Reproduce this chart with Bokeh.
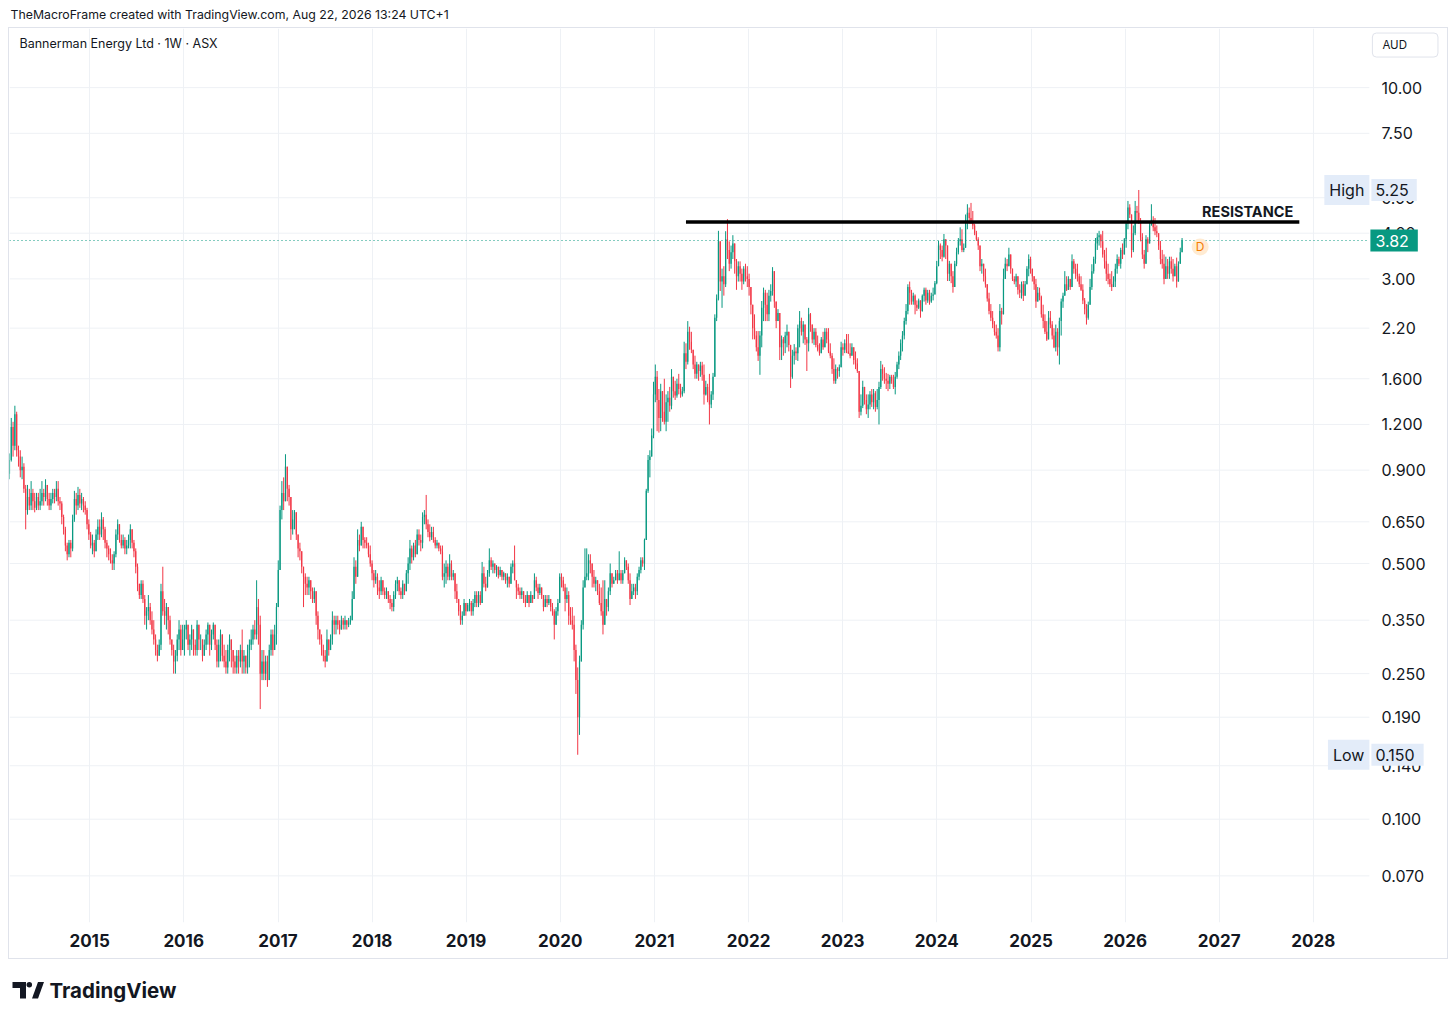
import datetime as dt
import math
from bokeh.plotting import figure
from bokeh.layouts import column, row
from bokeh.models import (ColumnDataSource, FixedTicker, CustomJSTickFormatter,
                          Label, Range1d, Spacer)
from bokeh.embed import file_html
from bokeh.resources import INLINE
from bokeh.core.properties import value

# ---------------- data: weekly candles (close / high / low) ----------------
first_week = dt.datetime(2014, 2, 24)
first_open = 0.88

c14 = [0.96,1.18,1.05,1.28,1.02,0.98,0.90,0.92,0.80,0.70,0.76,0.72,0.78,0.74,0.71,0.76,0.72,0.74,0.78,0.76,0.82,0.75,0.72,0.75,0.78,0.76,0.80,0.74,0.73,0.67,0.62,0.56,0.53,0.57,0.55,0.66,0.75,0.72,0.77,0.73,0.75,0.72,0.70,0.64]
h14 = [1.00,1.25,1.22,1.35,1.30,1.05,1.02,0.98,0.94,0.82,0.82,0.80,0.84,0.80,0.78,0.78,0.78,0.80,0.84,0.80,0.85,0.82,0.78,0.78,0.80,0.80,0.84,0.84,0.76,0.74,0.68,0.63,0.57,0.58,0.58,0.68,0.79,0.78,0.81,0.80,0.78,0.76,0.74,0.71]
l14 = [0.85,0.95,0.98,1.02,0.98,0.92,0.86,0.85,0.78,0.62,0.68,0.70,0.70,0.70,0.69,0.70,0.70,0.70,0.72,0.72,0.74,0.72,0.70,0.70,0.73,0.73,0.74,0.72,0.70,0.64,0.60,0.54,0.51,0.52,0.52,0.54,0.65,0.68,0.70,0.71,0.70,0.69,0.68,0.62]

c15 = [0.60,0.56,0.57,0.54,0.60,0.63,0.60,0.66,0.62,0.57,0.55,0.53,0.51,0.50,0.53,0.60,0.64,0.58,0.56,0.58,0.55,0.56,0.58,0.62,0.57,0.54,0.49,0.44,0.41,0.44,0.40,0.36,0.37,0.38,0.35,0.33,0.31,0.29,0.28,0.30,0.42,0.37,0.36,0.38,0.35,0.31,0.29,0.27,0.28,0.31,0.33,0.29]
h15 = [0.66,0.61,0.60,0.58,0.62,0.66,0.66,0.69,0.67,0.63,0.58,0.56,0.55,0.53,0.54,0.62,0.66,0.64,0.60,0.60,0.59,0.58,0.60,0.64,0.62,0.58,0.55,0.50,0.44,0.45,0.45,0.41,0.38,0.41,0.39,0.37,0.35,0.32,0.30,0.31,0.44,0.49,0.40,0.39,0.38,0.36,0.31,0.30,0.29,0.32,0.35,0.34]
l15 = [0.58,0.55,0.53,0.52,0.54,0.58,0.58,0.59,0.58,0.55,0.52,0.51,0.50,0.48,0.48,0.52,0.58,0.57,0.55,0.55,0.53,0.53,0.55,0.55,0.55,0.52,0.47,0.42,0.40,0.40,0.39,0.34,0.33,0.35,0.34,0.32,0.30,0.28,0.27,0.28,0.29,0.36,0.34,0.33,0.32,0.30,0.28,0.25,0.25,0.27,0.29,0.28]

c16 = [0.31,0.33,0.34,0.30,0.31,0.33,0.30,0.29,0.34,0.31,0.31,0.28,0.30,0.32,0.34,0.30,0.32,0.34,0.30,0.27,0.30,0.32,0.28,0.27,0.26,0.29,0.31,0.29,0.27,0.26,0.28,0.27,0.29,0.27,0.28,0.26,0.29,0.30,0.31,0.33,0.32,0.38,0.34,0.25,0.27,0.25,0.27,0.24,0.29,0.32,0.29,0.32]
h16 = [0.34,0.34,0.35,0.34,0.32,0.34,0.33,0.31,0.35,0.34,0.32,0.31,0.31,0.33,0.345,0.34,0.33,0.345,0.33,0.31,0.31,0.33,0.32,0.30,0.29,0.30,0.32,0.31,0.29,0.28,0.29,0.29,0.30,0.33,0.29,0.28,0.30,0.31,0.33,0.34,0.35,0.45,0.40,0.36,0.29,0.29,0.28,0.28,0.30,0.33,0.33,0.34]
l16 = [0.29,0.28,0.31,0.29,0.28,0.29,0.28,0.28,0.28,0.29,0.29,0.27,0.28,0.29,0.30,0.28,0.29,0.31,0.29,0.26,0.26,0.27,0.27,0.26,0.25,0.25,0.27,0.26,0.25,0.25,0.25,0.25,0.26,0.25,0.25,0.25,0.25,0.26,0.29,0.30,0.31,0.31,0.30,0.20,0.24,0.24,0.24,0.23,0.24,0.28,0.28,0.29]

c17 = [0.38,0.48,0.70,0.78,0.74,0.92,0.80,0.76,0.62,0.66,0.69,0.60,0.55,0.54,0.49,0.46,0.44,0.43,0.45,0.42,0.40,0.42,0.36,0.33,0.31,0.29,0.28,0.27,0.31,0.29,0.31,0.35,0.34,0.35,0.34,0.33,0.35,0.34,0.35,0.34,0.345,0.35,0.40,0.49,0.46,0.58,0.56,0.63,0.58,0.57,0.56,0.53]
h17 = [0.39,0.51,0.72,0.84,0.86,0.995,0.90,0.82,0.76,0.70,0.70,0.66,0.60,0.57,0.53,0.47,0.47,0.46,0.46,0.45,0.43,0.43,0.40,0.37,0.33,0.32,0.30,0.29,0.33,0.31,0.32,0.37,0.36,0.36,0.36,0.35,0.36,0.355,0.36,0.35,0.355,0.36,0.42,0.52,0.51,0.62,0.60,0.65,0.63,0.59,0.59,0.57]
l17 = [0.30,0.38,0.48,0.66,0.70,0.80,0.74,0.72,0.58,0.60,0.62,0.58,0.52,0.51,0.47,0.38,0.41,0.41,0.41,0.40,0.39,0.39,0.34,0.31,0.30,0.28,0.27,0.26,0.27,0.28,0.29,0.30,0.32,0.32,0.33,0.32,0.33,0.33,0.33,0.33,0.335,0.34,0.35,0.43,0.44,0.50,0.54,0.57,0.55,0.55,0.55,0.52]

c18 = [0.50,0.47,0.45,0.46,0.43,0.42,0.45,0.42,0.41,0.42,0.40,0.39,0.38,0.41,0.44,0.45,0.42,0.41,0.44,0.42,0.47,0.50,0.55,0.52,0.56,0.53,0.60,0.58,0.57,0.67,0.68,0.64,0.61,0.59,0.61,0.58,0.56,0.57,0.55,0.54,0.46,0.47,0.49,0.46,0.50,0.46,0.47,0.42,0.40,0.37,0.35,0.36,0.39]
h18 = [0.56,0.51,0.48,0.48,0.47,0.45,0.46,0.44,0.43,0.43,0.42,0.41,0.40,0.42,0.45,0.46,0.45,0.43,0.45,0.44,0.48,0.52,0.58,0.56,0.57,0.58,0.62,0.62,0.60,0.69,0.70,0.77,0.66,0.64,0.63,0.63,0.59,0.58,0.57,0.56,0.56,0.50,0.51,0.50,0.53,0.51,0.48,0.47,0.44,0.40,0.385,0.37,0.40]
l18 = [0.49,0.45,0.43,0.44,0.41,0.40,0.41,0.41,0.40,0.40,0.39,0.375,0.37,0.37,0.40,0.42,0.41,0.40,0.40,0.41,0.42,0.44,0.48,0.50,0.51,0.52,0.53,0.56,0.54,0.55,0.64,0.62,0.59,0.575,0.58,0.57,0.55,0.55,0.54,0.53,0.45,0.43,0.44,0.45,0.45,0.45,0.45,0.40,0.39,0.36,0.34,0.34,0.36]

c19 = [0.37,0.385,0.39,0.37,0.39,0.41,0.39,0.41,0.39,0.47,0.44,0.43,0.47,0.51,0.49,0.50,0.48,0.49,0.465,0.48,0.46,0.47,0.45,0.46,0.44,0.49,0.50,0.45,0.43,0.42,0.41,0.42,0.40,0.39,0.41,0.39,0.41,0.40,0.45,0.43,0.415,0.43,0.41,0.38,0.40,0.39,0.40,0.38,0.37,0.34,0.37,0.39]
h19 = [0.39,0.39,0.40,0.395,0.40,0.42,0.42,0.42,0.42,0.505,0.49,0.46,0.48,0.55,0.52,0.51,0.50,0.495,0.49,0.49,0.48,0.475,0.47,0.47,0.46,0.50,0.51,0.56,0.45,0.44,0.43,0.43,0.42,0.41,0.42,0.41,0.42,0.41,0.47,0.46,0.44,0.44,0.43,0.41,0.41,0.41,0.41,0.40,0.39,0.375,0.38,0.40]
l19 = [0.36,0.37,0.37,0.36,0.36,0.38,0.38,0.38,0.385,0.39,0.43,0.42,0.43,0.46,0.48,0.47,0.47,0.46,0.455,0.46,0.45,0.45,0.44,0.43,0.43,0.44,0.47,0.45,0.40,0.41,0.40,0.40,0.39,0.38,0.39,0.38,0.39,0.39,0.40,0.42,0.40,0.41,0.40,0.37,0.38,0.38,0.385,0.37,0.36,0.31,0.35,0.36]

c20 = [0.46,0.45,0.43,0.40,0.41,0.36,0.35,0.34,0.29,0.24,0.19,0.27,0.34,0.43,0.46,0.47,0.51,0.50,0.46,0.44,0.45,0.42,0.39,0.37,0.34,0.40,0.38,0.42,0.47,0.44,0.45,0.47,0.45,0.47,0.45,0.47,0.51,0.49,0.45,0.40,0.42,0.43,0.42,0.46,0.48,0.51,0.50,0.58,0.79,0.96,0.98,1.12]
h20 = [0.47,0.47,0.46,0.44,0.43,0.42,0.38,0.38,0.36,0.30,0.26,0.28,0.35,0.45,0.55,0.55,0.53,0.53,0.49,0.48,0.46,0.44,0.44,0.43,0.45,0.45,0.40,0.43,0.50,0.47,0.46,0.48,0.48,0.54,0.48,0.48,0.52,0.51,0.50,0.47,0.44,0.44,0.44,0.47,0.49,0.52,0.52,0.585,0.80,0.99,1.02,1.17]
l20 = [0.43,0.43,0.42,0.37,0.39,0.34,0.34,0.33,0.27,0.22,0.150,0.17,0.27,0.33,0.44,0.45,0.45,0.47,0.43,0.43,0.42,0.41,0.385,0.36,0.32,0.36,0.36,0.37,0.41,0.43,0.44,0.45,0.44,0.45,0.44,0.44,0.47,0.48,0.44,0.385,0.40,0.41,0.40,0.41,0.45,0.47,0.49,0.48,0.58,0.78,0.86,0.98]

c21 = [1.45,1.62,1.40,1.25,1.48,1.30,1.22,1.38,1.42,1.35,1.62,1.48,1.44,1.55,1.50,1.45,1.48,1.88,1.78,2.15,2.02,1.92,1.75,1.65,1.75,1.68,1.74,1.64,1.45,1.52,1.40,1.36,1.45,1.62,2.35,2.65,3.80,2.95,3.05,2.90,3.85,3.60,3.30,3.55,3.75,3.35,3.05,3.25,3.10,2.95,3.20,3.05]
h21 = [1.57,1.75,1.68,1.50,1.55,1.45,1.60,1.45,1.48,1.52,1.70,1.62,1.58,1.60,1.65,1.55,1.52,2.02,2.00,2.30,2.22,2.15,1.92,1.85,1.78,1.72,1.78,1.78,1.75,1.58,1.55,1.65,1.48,1.66,2.40,2.72,4.06,3.58,3.20,3.25,4.05,4.37,3.80,3.70,3.95,3.70,3.40,3.35,3.35,3.20,3.25,3.30]
l21 = [1.10,1.38,1.15,1.14,1.15,1.22,1.20,1.15,1.22,1.30,1.32,1.42,1.40,1.42,1.45,1.42,1.43,1.46,1.70,1.75,1.92,1.88,1.70,1.60,1.60,1.58,1.62,1.58,1.36,1.44,1.38,1.20,1.33,1.40,1.62,2.30,2.62,2.78,2.50,2.70,2.85,3.40,3.15,3.20,3.40,3.10,2.80,2.95,2.95,2.80,2.90,2.95]

c22 = [3.00,2.85,2.55,2.20,2.10,1.95,1.85,2.10,2.50,2.75,2.55,2.40,2.70,2.78,3.15,2.60,2.30,2.42,1.95,2.05,2.00,2.10,2.15,1.98,1.62,1.85,1.90,1.88,2.20,2.30,2.15,2.25,2.05,2.00,2.40,2.25,2.05,2.15,1.98,1.92,1.88,2.05,1.95,2.15,2.05,1.90,1.85,1.70,1.58,1.70,1.68,1.72]
h22 = [3.25,3.10,2.84,2.45,2.40,2.16,2.16,2.16,2.61,2.84,2.80,2.75,2.80,2.90,3.23,3.10,2.56,2.48,2.38,2.10,2.08,2.15,2.25,2.15,1.95,1.92,1.99,1.95,2.25,2.45,2.35,2.30,2.20,2.08,2.50,2.42,2.25,2.20,2.20,2.10,2.00,2.08,2.15,2.20,2.20,2.20,2.00,1.88,1.82,1.75,1.72,1.75]
l22 = [2.85,2.70,2.40,2.05,2.05,1.90,1.79,1.64,1.95,2.30,2.30,2.30,2.30,2.60,2.70,2.50,2.20,2.30,1.80,1.80,1.85,1.88,1.95,1.90,1.51,1.60,1.75,1.80,1.79,1.95,2.10,2.00,1.98,1.68,1.90,2.15,2.00,1.98,1.95,1.90,1.85,1.90,1.92,1.95,2.00,1.88,1.82,1.65,1.55,1.55,1.60,1.62]

c23 = [1.95,1.92,2.00,1.90,1.88,1.85,1.95,1.80,1.76,1.68,1.30,1.35,1.52,1.40,1.32,1.36,1.45,1.38,1.46,1.34,1.40,1.52,1.70,1.65,1.60,1.58,1.55,1.62,1.58,1.52,1.62,1.75,1.85,2.00,2.10,2.30,2.45,2.85,2.75,2.60,2.70,2.55,2.50,2.62,2.45,2.70,2.80,2.62,2.75,2.60,2.70,2.72]
h23 = [2.02,2.00,2.05,2.12,2.12,2.00,2.00,1.95,1.90,1.82,1.57,1.45,1.58,1.52,1.45,1.45,1.48,1.50,1.50,1.48,1.50,1.57,1.79,1.75,1.72,1.66,1.65,1.64,1.64,1.64,1.67,1.78,1.90,2.05,2.16,2.35,2.56,2.90,2.95,2.80,2.75,2.72,2.62,2.65,2.60,2.72,2.84,2.84,2.80,2.80,2.75,2.84]
l23 = [1.72,1.85,1.88,1.88,1.87,1.82,1.85,1.75,1.70,1.66,1.25,1.27,1.33,1.36,1.28,1.25,1.32,1.34,1.32,1.30,1.32,1.20,1.50,1.58,1.55,1.50,1.48,1.50,1.55,1.50,1.45,1.60,1.70,1.80,1.90,2.05,2.25,2.40,2.55,2.55,2.55,2.40,2.45,2.48,2.35,2.44,2.60,2.55,2.58,2.55,2.58,2.62]

c24 = [2.92,3.25,3.70,3.60,3.45,3.85,3.70,3.10,3.30,3.05,2.85,3.30,3.55,3.80,3.85,3.60,3.65,4.30,4.55,4.40,4.30,4.20,4.00,3.85,3.70,3.25,3.30,3.05,2.90,2.65,2.45,2.35,2.25,2.15,2.10,1.95,2.45,2.40,3.00,3.30,3.25,3.50,3.20,3.00,2.95,3.05,2.80,2.75,2.90,2.70,2.90,3.20,3.40]
h24 = [2.96,3.36,3.81,3.75,3.70,3.98,3.85,3.50,3.36,3.30,3.15,3.36,3.65,3.88,4.15,4.10,3.75,4.50,4.80,4.70,4.84,4.60,4.25,4.06,3.90,3.65,3.40,3.30,3.20,2.90,2.75,2.56,2.45,2.30,2.25,2.20,2.56,2.50,3.20,3.43,3.40,3.65,3.45,3.20,3.05,3.10,3.00,2.90,2.95,2.96,2.96,3.25,3.50]
l24 = [2.72,2.90,3.25,3.40,3.35,3.43,3.40,2.96,2.96,2.92,2.75,2.85,3.25,3.50,3.70,3.55,3.55,3.65,4.10,4.25,4.24,4.10,3.95,3.81,3.60,3.15,3.10,2.95,2.84,2.60,2.40,2.30,2.20,2.10,2.06,1.90,1.90,2.25,2.40,3.00,3.15,3.25,3.10,2.96,2.90,2.85,2.72,2.66,2.65,2.61,2.75,2.90,3.05]

c25 = [3.20,3.05,2.90,2.60,2.75,2.68,2.40,2.30,2.15,2.05,2.35,2.25,2.10,1.95,2.15,1.95,2.30,2.60,2.70,2.90,2.80,3.00,2.85,3.35,3.20,3.10,3.05,2.90,2.80,2.62,2.48,2.35,2.55,2.85,3.15,3.40,3.75,3.90,3.95,3.80,3.50,3.35,3.10,3.00,2.90,2.85,2.95,3.20,3.40,3.30,3.60,3.50]
h25 = [3.45,3.20,3.05,3.00,2.85,2.84,2.70,2.55,2.40,2.30,2.45,2.45,2.30,2.20,2.25,2.20,2.35,2.65,2.75,3.15,3.05,3.05,3.00,3.50,3.40,3.30,3.30,3.10,3.05,2.90,2.66,2.56,2.60,3.00,3.29,3.45,3.88,4.00,4.06,3.98,4.06,3.60,3.65,3.30,3.10,3.15,3.05,3.30,3.50,3.45,3.65,3.75]
l25 = [3.10,2.95,2.80,2.50,2.60,2.62,2.35,2.20,2.12,2.03,2.05,2.20,2.05,1.94,1.90,1.85,1.75,2.10,2.50,2.84,2.78,2.80,2.80,2.85,3.10,3.00,2.95,2.85,2.78,2.56,2.40,2.25,2.32,2.55,2.80,3.10,3.30,3.60,3.70,3.65,3.43,3.20,2.96,2.90,2.85,2.78,2.85,2.85,3.10,3.25,3.20,3.40]

c26 = [3.85,4.25,4.70,4.50,3.60,4.00,4.60,4.55,4.30,3.90,3.50,3.30,3.85,3.75,4.20,4.35,4.15,4.05,4.00,3.70,3.40,3.30,3.00,3.25,3.10,3.35,3.20,3.05,3.25,2.95,3.30,3.55,3.82]
h26 = [3.88,4.32,4.90,4.80,4.50,4.20,4.90,4.75,5.25,4.40,4.00,3.60,3.95,3.90,4.30,4.80,4.45,4.40,4.20,4.00,3.81,3.60,3.50,3.45,3.40,3.45,3.45,3.40,3.30,3.43,3.35,3.65,3.88]
l26 = [3.50,3.65,4.10,4.40,3.43,3.55,3.95,4.30,4.24,3.80,3.40,3.20,3.30,3.55,3.75,4.24,4.05,3.95,3.90,3.60,3.29,3.20,2.90,3.05,3.00,3.00,3.10,2.95,3.10,2.84,2.95,3.30,3.55]

resistance_level = 4.29
resistance_start = dt.datetime(2021, 5, 3)
resistance_end = dt.datetime(2027, 11, 8)
event_date = dt.datetime(2026, 10, 19)   # "D" marker

year_ticks = list(range(2015, 2029))
price_ticks = [0.07, 0.1, 0.14, 0.19, 0.25, 0.35, 0.5, 0.65, 0.9, 1.2, 1.6, 2.2, 3.0, 4.0, 5.0, 7.5, 10.0]

header_text = "TheMacroFrame created with TradingView.com, Aug 22, 2026 13:24 UTC+1"
title_text = "Bannerman Energy Ltd \u00b7 1W \u00b7 ASX"

# ---------------- assemble ----------------
closes = c14 + c15 + c16 + c17 + c18 + c19 + c20 + c21 + c22 + c23 + c24 + c25 + c26
highs = h14 + h15 + h16 + h17 + h18 + h19 + h20 + h21 + h22 + h23 + h24 + h25 + h26
lows = l14 + l15 + l16 + l17 + l18 + l19 + l20 + l21 + l22 + l23 + l24 + l25 + l26
opens = [first_open] + closes[:-1]
n = len(closes)

EPOCH = dt.datetime(1970, 1, 1)
DAY = 86400000.0
def ms(d):
    return (d - EPOCH).total_seconds() * 1000.0

GREEN = "#089981"
RED = "#F23645"
TXT = "#131722"
GRID = "#EEF1F5"
FONT = "Inter"

xs = [ms(first_week + dt.timedelta(weeks=i)) for i in range(n)]
tops, bots, his, los, cols = [], [], [], [], []
for o, h, l, c in zip(opens, highs, lows, closes):
    tops.append(max(o, c)); bots.append(min(o, c))
    his.append(max(h, o, c)); los.append(min(l, o, c))
    cols.append(GREEN if c >= o else RED)
src = ColumnDataSource(dict(x=xs, top=tops, bottom=bots, hi=his, lo=los, color=cols))

last_close = closes[-1]
max_high = max(his)
min_low = min(los)

def fmt(v):
    return f"{v:.3f}" if v < 2 else f"{v:.2f}"

# ---------------- geometry (page pixels) ----------------
PX_PER_DAY = 94.0 / 365.25
CANVAS_X0, CANVAS_Y0 = 9, 28          # page position of the main canvas origin
FRAME_W, FRAME_H = 1437, 892          # frame spans chart + price scale area
SCALE_X = 1367                        # page x where the price scale begins
X_START = ms(dt.datetime(2015, 1, 1)) - 80 / PX_PER_DAY * DAY
X_END = X_START + FRAME_W / PX_PER_DAY * DAY
def py2price(py):
    return 10.0 * math.exp(-(py - 87) / 158.5)
Y_TOP = py2price(CANVAS_Y0)
Y_BOT = py2price(CANVAS_Y0 + FRAME_H)
def px2x(px):
    return X_START + (px - CANVAS_X0) / PX_PER_DAY * DAY
X_SCALE = px2x(SCALE_X)

# ---------------- main figure ----------------
p = figure(width=1440, height=932, x_range=Range1d(X_START, X_END),
           y_range=Range1d(Y_BOT, Y_TOP), y_axis_type="log", y_axis_location="right",
           output_backend="svg", toolbar_location=None,
           min_border_left=0, min_border_right=1, min_border_top=0, min_border_bottom=38)
p.styles = {"border": "1px solid #E0E3EB"}
p.outline_line_color = None
p.background_fill_color = "white"
p.border_fill_color = "white"

xticker = FixedTicker(ticks=[ms(dt.datetime(y, 1, 1)) for y in year_ticks])
yticker = FixedTicker(ticks=price_ticks)
xa = p.xaxis[0]
xa.ticker = xticker
xa.formatter = CustomJSTickFormatter(code="return String(new Date(tick).getUTCFullYear());")
ya = p.yaxis[0]
ya.ticker = yticker
ya.formatter = CustomJSTickFormatter(code="return tick < 2 ? tick.toFixed(3) : tick.toFixed(2);")
for ax in (xa, ya):
    ax.axis_line_color = None
    ax.major_tick_line_color = None
    ax.minor_tick_line_color = None
    ax.major_tick_out = 0
    ax.major_tick_in = 0
    ax.major_label_text_color = TXT
    ax.major_label_text_font = FONT
xa.major_label_text_font_size = "17px"
xa.major_label_text_font_style = "bold"
xa.major_label_standoff = 11
ya.major_label_text_font_size = "16px"
# price labels sit inside the price-scale strip (frame right edge is at page x 1446)
ya.major_label_standoff = 1379 - (CANVAS_X0 + FRAME_W)

p.xgrid[0].ticker = xticker
p.xgrid.grid_line_color = GRID
p.ygrid.visible = False
# horizontal grid lines stop where the price scale begins
p.segment(x0=[X_START] * len(price_ticks), x1=[X_SCALE] * len(price_ticks),
          y0=price_ticks, y1=price_ticks, line_color=GRID, line_width=1, level="underlay")

# candles
p.segment(x0="x", x1="x", y0="lo", y1="hi", line_color="color", line_width=1, source=src)
p.vbar(x="x", width=4.8 * DAY, top="top", bottom="bottom", fill_color="color",
       line_color=None, source=src)

# current price dotted line
p.segment(x0=[X_START], x1=[X_SCALE], y0=[last_close], y1=[last_close],
          line_color=GREEN, line_width=1, line_dash="1 3")

# resistance line
p.segment(x0=[ms(resistance_start)], x1=[ms(resistance_end)],
          y0=[resistance_level], y1=[resistance_level], line_color="#000000", line_width=3.5)
p.add_layout(Label(x=px2x(1291), y=py2price(210.5), text="RESISTANCE", text_align="right",
                   text_baseline="middle", text_font=FONT, text_font_size="14.5px",
                   text_font_style="bold", text_color=TXT))

# dividend marker
p.scatter(x=[ms(event_date)], y=[py2price(246)], size=17, fill_color="#FFEBD2", line_color=None)
p.text(x=[ms(event_date)], y=[py2price(246)], text=["D"], text_align="center",
       text_baseline="middle", text_font=value(FONT), text_font_size="12px", text_color="#F57C00")

# symbol title
p.add_layout(Label(x=px2x(19), y=py2price(43), text=title_text, text_baseline="middle",
                   text_font=FONT, text_font_size="12.5px", text_color=TXT))

# price-scale labels (drawn over the price axis labels); x is the box edge
LB = "#E3ECF9"
def scale_label(txt, price, x_px, align, bg, color, pad):
    return Label(x=px2x(x_px), y=price, text=txt, text_align=align, text_baseline="middle",
                 text_font=FONT, text_font_size="16px", text_color=color,
                 background_fill_color=bg, padding=pad)

p.add_layout(scale_label("High", max_high, 1367, "right", LB, TXT, dict(left=5, right=5, top=5, bottom=5)))
p.add_layout(scale_label(fmt(max_high), max_high, 1369, "left", LB, TXT, dict(left=4, right=8, top=5, bottom=5)))
p.add_layout(scale_label("Low", min_low, 1367, "right", LB, TXT, dict(left=5, right=5, top=5, bottom=5)))
p.add_layout(scale_label(fmt(min_low), min_low, 1369, "left", LB, TXT, dict(left=4, right=9, top=5, bottom=5)))
p.add_layout(scale_label(fmt(last_close), last_close, 1368, "left", GREEN, "white", dict(left=5, right=9, top=5, bottom=5)))
p.add_layout(Label(x=px2x(1370), y=py2price(44.5), text="AUD", text_baseline="middle",
                   text_font=FONT, text_font_size="11.5px", text_color=TXT,
                   background_fill_color="white", border_line_color="#E0E3EB",
                   border_radius=4, padding=dict(left=10, right=31, top=5, bottom=5)))

# ---------------- header ----------------
HH = 27
hdr = figure(width=1456, height=HH, x_range=Range1d(0, 1456), y_range=Range1d(0, HH),
             output_backend="svg", toolbar_location=None, min_border=0,
             x_axis_location=None, y_axis_location=None)
hdr.grid.visible = False
hdr.outline_line_color = None
hdr.text(x=[10], y=[HH - 14], text=[header_text], text_baseline="middle", text_font=value(FONT),
         text_font_size="12.3px", text_color=TXT)

# ---------------- footer (logo) ----------------
FY0 = 959
FH = 1020 - FY0
ftr = figure(width=1456, height=FH, x_range=Range1d(0, 1456), y_range=Range1d(0, FH),
             output_backend="svg", toolbar_location=None, min_border=0,
             x_axis_location=None, y_axis_location=None)
ftr.grid.visible = False
ftr.outline_line_color = None
def fy(py): return FH - (py - FY0)
logo_t_x = [12, 25.5, 25.5, 19.5, 19.5, 12]
logo_t_y = [fy(v) for v in (981.5, 981.5, 998, 998, 987.5, 987.5)]
logo_s_x = [31.5, 37.5, 43.5, 37.5]
logo_s_y = [fy(v) for v in (998, 998, 981.5, 981.5)]
ftr.patches(xs=[logo_t_x, logo_s_x], ys=[logo_t_y, logo_s_y], fill_color="#131722", line_color=None)
ftr.scatter(x=[28.8], y=[fy(984.2)], size=5.5, fill_color="#131722", line_color=None)
ftr.text(x=[49], y=[fy(990)], text=["TradingView"], text_baseline="middle",
         text_font=value(FONT), text_font_size="20.5px", text_font_style="bold", text_color="#131722")

layout = column(hdr, row(Spacer(width=8, height=932), p), ftr)
open("out.html", "w").write(file_html(layout, INLINE))
